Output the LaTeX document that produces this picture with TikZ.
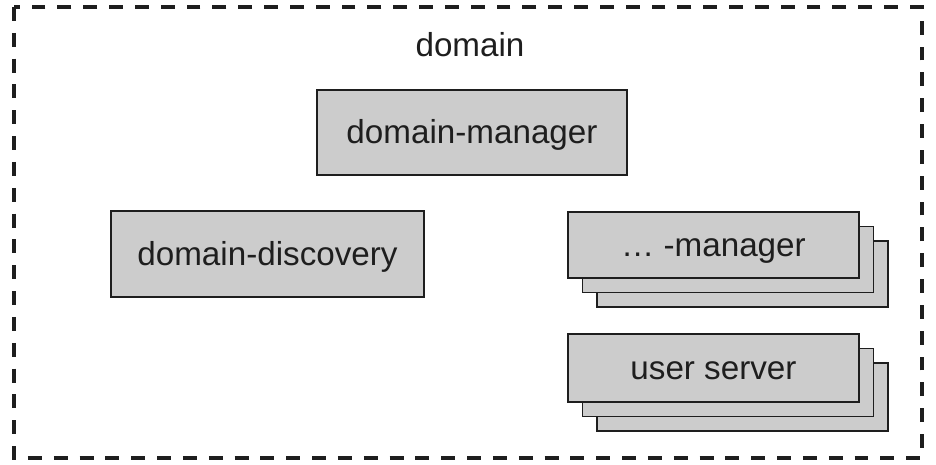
\documentclass[tikz,border=0pt]{standalone}
\usepackage{fontspec}
\setmainfont{Liberation Sans}
\usepackage{xcolor}
\usetikzlibrary{positioning}
\definecolor{boxgray}{HTML}{CCCCCC}
\definecolor{ink}{HTML}{1E1E1E}

\tikzset{
  svc/.style={draw=ink, line width=0.85pt, fill=boxgray, text=ink, inner sep=0pt,
    text height=12.9pt, text depth=0pt, font=\fontsize{18.9}{22}\selectfont},
  frame/.style={draw=ink, line width=2pt, dash pattern=on 7.9pt off 6.8pt}
}

\begin{document}
\begin{tikzpicture}
\useasboundingbox (0,0) rectangle (18.72,-9.3);
\draw[frame] (0.28,-0.14) rectangle (18.44,-9.16);
\node[text=ink, font=\fontsize{18.9}{22}\selectfont] (domain) at (9.4,-0.9) {domain};

\node[svc, minimum width=6.2cm, minimum height=1.7cm] (dm) at (9.44,-2.65) {domain-manager};
\node[svc, minimum width=6.26cm, minimum height=1.72cm] (dd) at (5.35,-5.08) {domain-discovery};

% stacked managers
\coordinate (mgrc) at (14.27,-4.9);
\node[svc, minimum width=5.82cm, minimum height=1.32cm] (mgr3) at ([shift={(0.58,-0.58)}]mgrc) {};
\node[svc, minimum width=5.82cm, minimum height=1.32cm] (mgr2) at ([shift={(0.29,-0.29)}]mgrc) {};
\node[svc, minimum width=5.82cm, minimum height=1.32cm] (mgr) at (mgrc) {\dots\ -manager};

% stacked user servers
\coordinate (usrc) at (14.27,-7.36);
\node[svc, minimum width=5.82cm, minimum height=1.36cm] (usr3) at ([shift={(0.58,-0.58)}]usrc) {};
\node[svc, minimum width=5.82cm, minimum height=1.36cm] (usr2) at ([shift={(0.29,-0.29)}]usrc) {};
\node[svc, minimum width=5.82cm, minimum height=1.36cm] (usr) at (usrc) {user server};
\end{tikzpicture}
\end{document}
